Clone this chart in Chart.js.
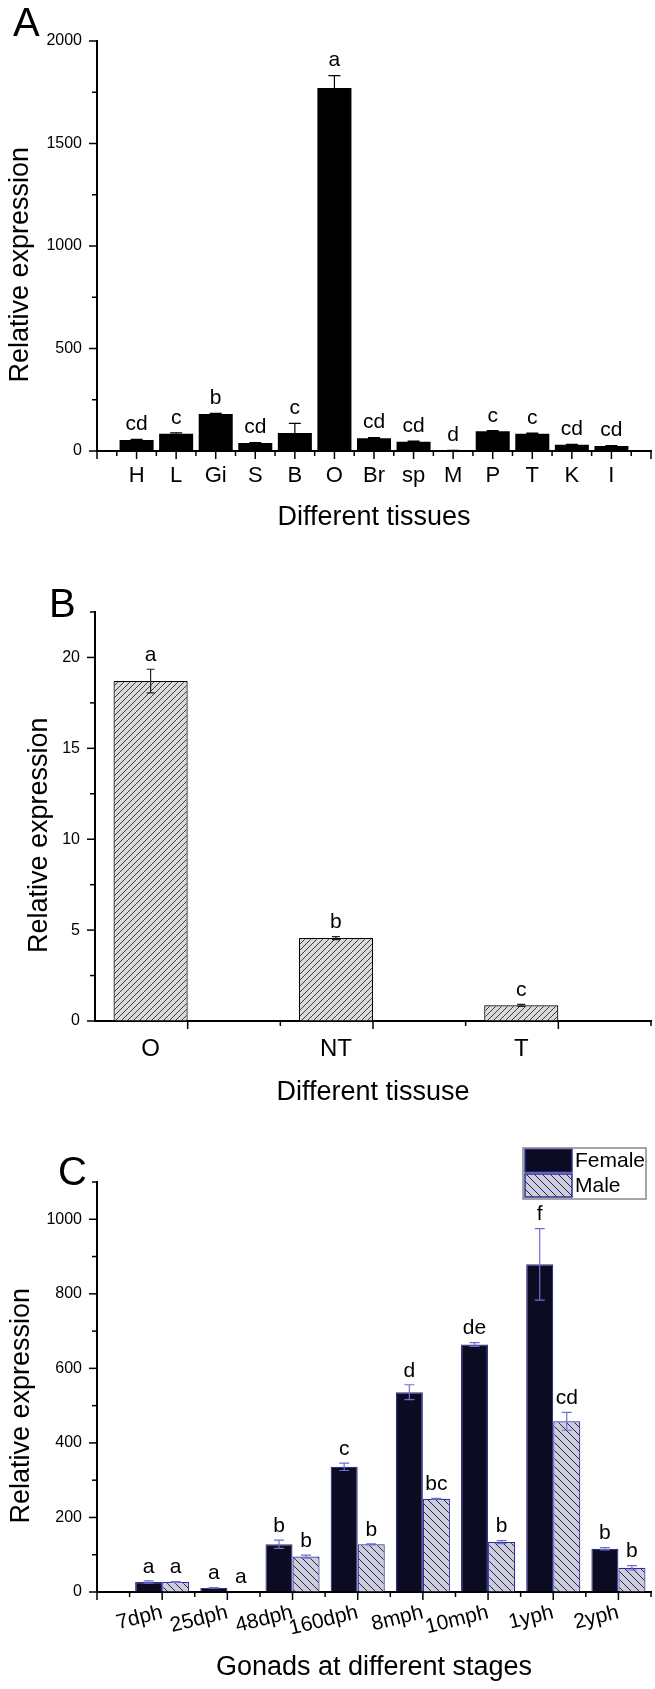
<!DOCTYPE html>
<html lang="en">
<head>
<meta charset="UTF-8">
<title>Relative expression</title>
<style>
  html, body { margin: 0; padding: 0; background: #fff; }
  body { width: 655px; height: 1689px; position: relative; overflow: hidden;
         font-family: 'Liberation Sans', Arial, sans-serif; }
  .panel { position: absolute; left: 0; width: 655px; }
  .panel canvas { display: block; }
  .tag { position: absolute; font-size: 40px; line-height: 1; color: #000; }
</style>
</head>
<body>

<div class="panel" style="top:0"><canvas id="chartA" width="655" height="540"></canvas></div>
<div class="panel" style="top:560px"><canvas id="chartB" width="655" height="550"></canvas></div>
<div class="panel" style="top:1120px"><canvas id="chartC" width="655" height="569"></canvas></div>
<div class="tag" style="left:13px;top:2px">A</div>
<div class="tag" style="left:49px;top:583px">B</div>
<div class="tag" style="left:58px;top:1151px">C</div>

<script src="https://cdn.jsdelivr.net/npm/chart.js"></script>
<script>
// panel A - tissues
const tissuesA = ['H', 'L', 'Gi', 'S', 'B', 'O', 'Br', 'sp', 'M', 'P', 'T', 'K', 'I'];
const expressionA = [54, 84, 180, 39, 88, 1771, 62, 45, 2, 96, 84, 30, 24];
const errorA = [3, 4, 4, 2, 47, 60, 3, 3, 1, 3, 3, 2, 2];
const lettersA = ['cd', 'c', 'b', 'cd', 'c', 'a', 'cd', 'cd', 'd', 'c', 'c', 'cd', 'cd'];

// panel B - gonads
const tissuesB = ['O', 'NT', 'T'];
const expressionB = [18.7, 4.56, 0.86];
const errorB = [0.65, 0.08, 0.05];
const lettersB = ['a', 'b', 'c'];

// panel C - stages
const stagesC = ['7dph', '25dph', '48dph', '160dph', '8mph', '10mph', '1yph', '2yph'];
const femaleC = [27, 11, 128, 336, 536, 664, 879, 116];
const femaleErrC = [3, 1, 11, 10, 20, 5, 96, 3];
const femaleLettersC = ['a', 'a', 'b', 'c', 'd', 'de', 'f', 'b'];
const maleC = [27, 1, 95, 128, 250, 134, 458, 65];
const maleErrC = [1, 0, 4, 1, 1, 4, 24, 6];
const maleLettersC = ['a', 'a', 'b', 'b', 'bc', 'b', 'cd', 'b'];

const family = "'Liberation Sans', Arial, sans-serif";
const noGrid = { drawOnChartArea: false, drawTicks: false, color: 'rgba(0,0,0,0)' };
const axisLine = { color: '#000', width: 2 };

// diagonal hatch fill for the patterned bars
function hatch(canvasId, bg, fg, size, dir) {
    const c = document.createElement('canvas');
    c.width = c.height = size;
    const g = c.getContext('2d');
    g.fillStyle = bg;
    g.fillRect(0, 0, size, size);
    g.strokeStyle = fg;
    g.lineWidth = 1;
    g.beginPath();
    if (dir === '/') {
        g.moveTo(0, size); g.lineTo(size, 0);
        g.moveTo(-1, 1); g.lineTo(1, -1);
        g.moveTo(size - 1, size + 1); g.lineTo(size + 1, size - 1);
    } else {
        g.moveTo(0, 0); g.lineTo(size, size);
        g.moveTo(-1, size - 1); g.lineTo(1, size + 1);
        g.moveTo(size - 1, -1); g.lineTo(size + 1, 1);
    }
    g.stroke();
    return document.getElementById(canvasId).getContext('2d').createPattern(c, 'repeat');
}

// outward major/minor tick marks, like Origin
const axisMarks = {
    id: 'axisMarks',
    afterDraw(chart, args, opts) {
        const ctx = chart.ctx;
        ctx.save();
        ctx.strokeStyle = '#000';
        ctx.lineWidth = 1.5;
        ['x', 'y'].forEach(id => {
            const scale = chart.scales[id];
            const spec = opts[id];
            if (!spec) return;
            ['major', 'minor'].forEach(kind => {
                const m = spec[kind];
                if (!m) return;
                const len = kind === 'major' ? 8 : 5;
                for (let k = 0; ; k++) {
                    const v = m.start + k * m.step;
                    if (v > scale.max + 1e-9) break;
                    if (v < scale.min - 1e-9) continue;
                    const p = scale.getPixelForValue(v);
                    ctx.beginPath();
                    if (id === 'x') {
                        ctx.moveTo(p, scale.top);
                        ctx.lineTo(p, scale.top + len);
                    } else {
                        ctx.moveTo(scale.right, p);
                        ctx.lineTo(scale.right - len, p);
                    }
                    ctx.stroke();
                }
            });
        });
        ctx.restore();
    }
};

// error bars and significance letters
const barNotes = {
    id: 'barNotes',
    afterDatasetsDraw(chart, args, opts) {
        const ctx = chart.ctx;
        const y = chart.scales.y;
        ctx.save();
        chart.data.datasets.forEach((ds, di) => {
            const meta = chart.getDatasetMeta(di);
            meta.data.forEach((bar, i) => {
                const v = ds.data[i].y;
                const e = ds.errors[i];
                const top = y.getPixelForValue(v + e);
                const bot = y.getPixelForValue(Math.max(0, v - e));
                if (e > 0) {
                    ctx.strokeStyle = ds.errorColor;
                    ctx.lineWidth = 1.2;
                    ctx.beginPath();
                    ctx.moveTo(bar.x, bot); ctx.lineTo(bar.x, top);
                    ctx.moveTo(bar.x - opts.cap, top); ctx.lineTo(bar.x + opts.cap, top);
                    ctx.moveTo(bar.x - opts.cap, bot); ctx.lineTo(bar.x + opts.cap, bot);
                    ctx.stroke();
                }
                ctx.fillStyle = '#000';
                ctx.font = '21px ' + family;
                ctx.textAlign = 'center';
                ctx.textBaseline = 'middle';
                ctx.fillText(ds.letters[i], bar.x, top - opts.gap);
            });
        });
        ctx.restore();
    }
};

// framed legend box used in panel C
const boxLegend = {
    id: 'boxLegend',
    afterDraw(chart, args, opts) {
        if (!opts.display) return;
        const { ctx, chartArea } = chart;
        const x0 = chartArea.right - opts.right - opts.width;
        const y0 = chartArea.top + opts.top;
        const n = chart.data.datasets.length;
        ctx.save();
        chart.data.datasets.forEach((ds, i) => {
            const ry = y0 + 1 + i * opts.rowHeight;
            ctx.fillStyle = ds.backgroundColor;
            ctx.fillRect(x0 + 2, ry, opts.swatch, opts.rowHeight - 2);
            ctx.strokeStyle = ds.borderColor;
            ctx.lineWidth = 1.5;
            ctx.strokeRect(x0 + 2, ry, opts.swatch, opts.rowHeight - 2);
            ctx.fillStyle = '#000';
            ctx.font = '21px ' + family;
            ctx.textAlign = 'left';
            ctx.textBaseline = 'middle';
            ctx.fillText(ds.label, x0 + opts.swatch + 5, ry + (opts.rowHeight - 2) / 2 + 1);
        });
        ctx.strokeStyle = '#888';
        ctx.lineWidth = 1.5;
        ctx.strokeRect(x0, y0, opts.width, n * opts.rowHeight + 1);
        ctx.restore();
    }
};

function yAxis(max, step, labelStep, titlePad, width) {
    return {
        min: 0, max: max,
        ticks: {
            stepSize: step, padding: 15, color: '#000', font: { family, size: 16 },
            callback: v => (Math.abs(v / labelStep - Math.round(v / labelStep)) < 1e-6 ? v : '')
        },
        grid: noGrid,
        border: axisLine,
        title: { display: true, text: 'Relative expression     ', color: '#000',
                 font: { family, size: 27 }, padding: { top: titlePad, bottom: 0 } },
        afterFit: s => { s.width = width; }
    };
}

// ---- A ----
new Chart(document.getElementById('chartA'), {
    type: 'bar',
    data: {
        datasets: [{
            label: 'Relative expression',
            data: expressionA.map((v, i) => ({ x: i + 1, y: v })),
            errors: errorA,
            letters: lettersA,
            errorColor: '#000',
            backgroundColor: '#000',
            borderWidth: 0,
            categoryPercentage: 0.86,
            barPercentage: 1
        }]
    },
    options: {
        responsive: false,
        animation: false,
        layout: { padding: { top: 41, right: 4, bottom: 0, left: 0 } },
        scales: {
            x: {
                type: 'linear', min: 0, max: 14, offset: false,
                afterBuildTicks: s => { s.ticks = tissuesA.map((t, i) => ({ value: i + 1 })); },
                ticks: { autoSkip: false, maxRotation: 0, padding: 12, color: '#000',
                         font: { family, size: 22 }, callback: (v, i) => tissuesA[i] },
                grid: noGrid,
                border: axisLine,
                title: { display: true, text: 'Different tissues', color: '#000',
                         font: { family, size: 27 }, padding: { top: 0, bottom: 6 } },
                afterFit: s => { s.height = 89; }
            },
            y: yAxis(2000, 250, 500, 4, 97)
        },
        plugins: {
            legend: { display: false },
            tooltip: { enabled: false },
            axisMarks: { x: { major: { start: 0, step: 1 }, minor: { start: 0.5, step: 1 } },
                         y: { major: { start: 0, step: 500 }, minor: { start: 250, step: 500 } } },
            barNotes: { cap: 6, gap: 15 },
            boxLegend: { display: false }
        }
    },
    plugins: [axisMarks, barNotes, boxLegend]
});

// ---- B ----
new Chart(document.getElementById('chartB'), {
    type: 'bar',
    data: {
        datasets: [{
            label: 'Relative expression',
            data: expressionB.map((v, i) => ({ x: i, y: v })),
            errors: errorB,
            letters: lettersB,
            errorColor: '#222',
            backgroundColor: hatch('chartB', '#dadada', '#3a3a3a', 6, '/'),
            borderColor: '#000',
            borderWidth: 1.2,
            categoryPercentage: 0.4,
            barPercentage: 1
        }]
    },
    options: {
        responsive: false,
        animation: false,
        layout: { padding: { top: 52, right: 4, bottom: 0, left: 0 } },
        scales: {
            x: {
                type: 'linear', min: -0.3, max: 2.7, offset: false,
                afterBuildTicks: s => { s.ticks = tissuesB.map((t, i) => ({ value: i })); },
                ticks: { autoSkip: false, maxRotation: 0, padding: 14, color: '#000',
                         font: { family, size: 24 }, callback: (v, i) => tissuesB[i] },
                grid: noGrid,
                border: axisLine,
                title: { display: true, text: 'Different tissuse', color: '#000',
                         font: { family, size: 27 }, padding: { top: 0, bottom: 1 } },
                afterFit: s => { s.height = 89; }
            },
            y: yAxis(22.5, 2.5, 5, 23, 95)
        },
        plugins: {
            legend: { display: false },
            tooltip: { enabled: false },
            axisMarks: { x: { major: { start: 0.2, step: 1 }, minor: { start: 0.7, step: 1 } },
                         y: { major: { start: 0, step: 5 }, minor: { start: 2.5, step: 5 } } },
            barNotes: { cap: 4, gap: 14 },
            boxLegend: { display: false }
        }
    },
    plugins: [axisMarks, barNotes, boxLegend]
});

// ---- C ----
new Chart(document.getElementById('chartC'), {
    type: 'bar',
    data: {
        datasets: [{
            label: 'Female',
            data: femaleC.map((v, i) => ({ x: i + 1, y: v })),
            errors: femaleErrC,
            letters: femaleLettersC,
            errorColor: '#6f6fd0',
            backgroundColor: '#0b0b22',
            borderColor: '#2e2e96',
            borderWidth: 1.2,
            categoryPercentage: 0.83,
            barPercentage: 1
        }, {
            label: 'Male',
            data: maleC.map((v, i) => ({ x: i + 1, y: v })),
            errors: maleErrC,
            letters: maleLettersC,
            errorColor: '#6f6fd0',
            backgroundColor: hatch('chartC', '#cdcdd9', '#22225c', 8, '\\'),
            borderColor: '#2e2e96',
            borderWidth: 1.2,
            categoryPercentage: 0.83,
            barPercentage: 1
        }]
    },
    options: {
        responsive: false,
        animation: false,
        layout: { padding: { top: 62, right: 4, bottom: 0, left: 0 } },
        scales: {
            x: {
                type: 'linear', min: 0, max: 8.5, offset: false,
                afterBuildTicks: s => { s.ticks = stagesC.map((t, i) => ({ value: i + 1 })); },
                ticks: { autoSkip: false, minRotation: 14, maxRotation: 14, padding: 8, color: '#000',
                         font: { family, size: 21 }, callback: (v, i) => stagesC[i] },
                grid: noGrid,
                border: axisLine,
                title: { display: true, text: 'Gonads at different stages', color: '#000',
                         font: { family, size: 27 }, padding: { top: 0, bottom: 5 } },
                afterFit: s => { s.height = 97; }
            },
            y: yAxis(1100, 100, 200, 5, 97)
        },
        plugins: {
            legend: { display: false },
            tooltip: { enabled: false },
            axisMarks: { x: { major: { start: 0, step: 1 }, minor: { start: 0.5, step: 1 } },
                         y: { major: { start: 0, step: 200 }, minor: { start: 100, step: 200 } } },
            barNotes: { cap: 5, gap: 14 },
            boxLegend: { display: true, right: 5, top: -34, width: 123, rowHeight: 25, swatch: 47 }
        }
    },
    plugins: [axisMarks, barNotes, boxLegend]
});
</script>
</body>
</html>
